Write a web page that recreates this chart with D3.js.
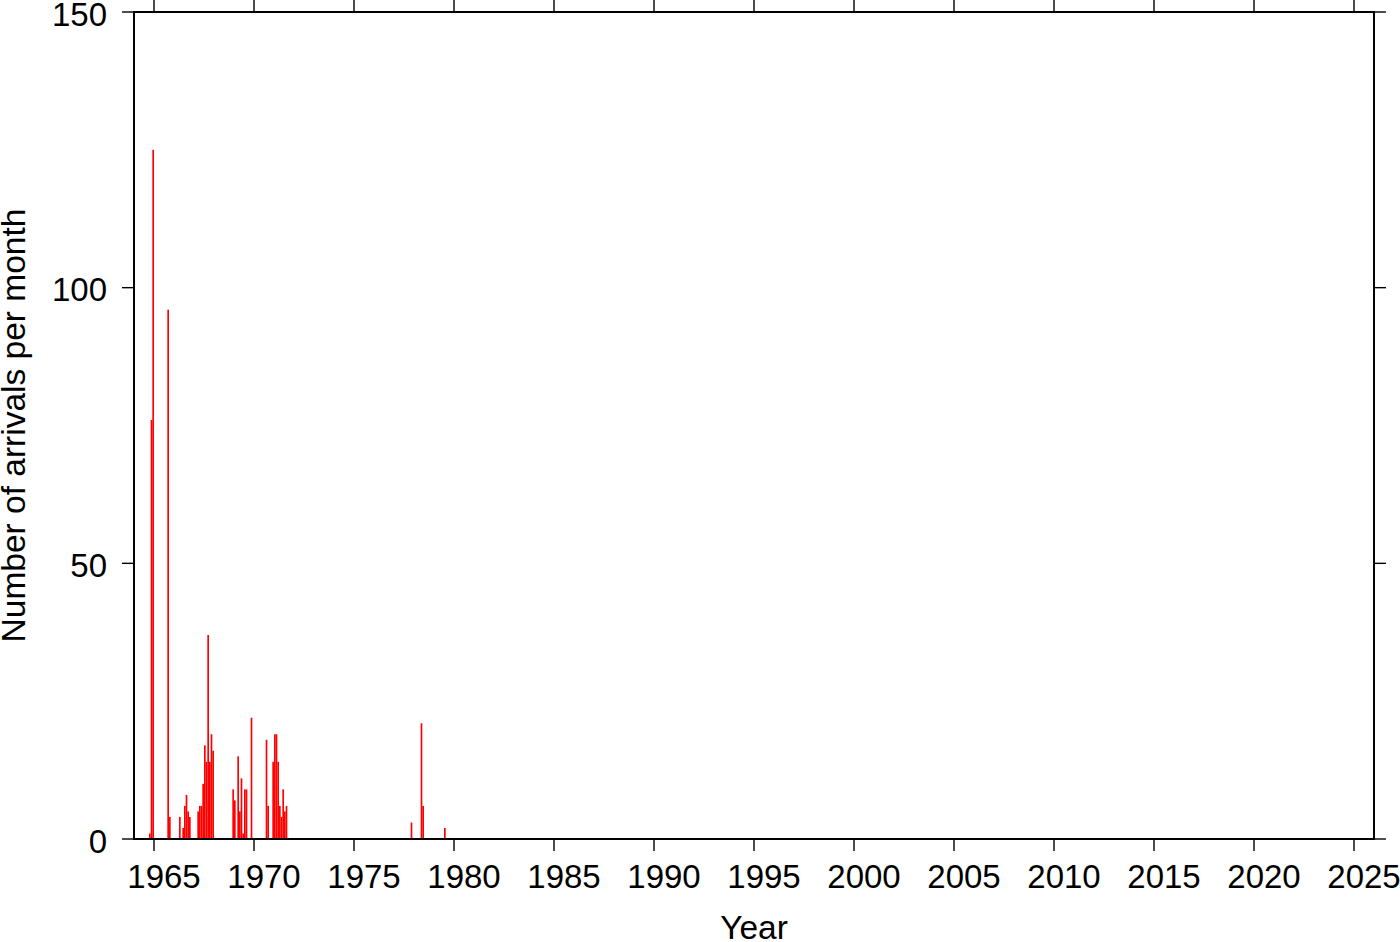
<!DOCTYPE html>
<html>
<head>
<meta charset="utf-8">
<script src="https://cdn.jsdelivr.net/npm/d3@7"></script>
<style>
  html, body { margin: 0; padding: 0; background: #fff; }
  svg { display: block; font-family: "Liberation Sans", Arial, Helvetica, sans-serif; }
</style>
</head>
<body>
<svg id="chart" width="1400" height="942"></svg>
<script>
// Months (YYYY-MM) and number of arrivals in each month
const months = [
  "1964-10","1964-11","1964-12","1965-09","1965-10",
  "1966-04","1966-06","1966-07","1966-08","1966-09","1966-10",
  "1967-03","1967-04","1967-05","1967-06","1967-07","1967-08","1967-09","1967-10","1967-11","1967-12",
  "1968-12","1969-01","1969-03","1969-04","1969-05","1969-06","1969-07","1969-08","1969-11",
  "1970-08","1970-09","1970-12","1971-01","1971-02","1971-03","1971-04","1971-05","1971-06","1971-07","1971-08",
  "1977-11","1978-05","1978-06","1979-07"
];
const arrivals = [
  1, 76, 125, 96, 4,
  4, 2, 6, 8, 5, 4,
  5, 6, 6, 10, 17, 14, 37, 14, 19, 16,
  9, 7, 15, 5, 11, 1, 9, 9, 22,
  18, 6, 14, 19, 19, 14, 6, 4, 9, 5, 6,
  3, 21, 6, 2
];
const xDomain = [1964, 2026];
const yDomain = [0, 150];
const xTickYears = [1965, 1970, 1975, 1980, 1985, 1990, 1995, 2000, 2005, 2010, 2015, 2020, 2025];
const yTickValues = [0, 50, 100, 150];
const xTitle = "Year";
const yTitle = "Number of arrivals per month";

const svg = d3.select("#chart");
const L = 134, R = 1374, T = 12, B = 839;
const tickLen = 12;
const tickFont = 33;
const titleFont = 33.5;

const x = d3.scaleLinear().domain(xDomain).range([L, R]);
const y = d3.scaleLinear().domain(yDomain).range([B, T]);

const data = months.map((m, i) => {
  const [yr, mo] = m.split("-").map(Number);
  return { t: yr + (mo - 1) / 12, v: arrivals[i] };
});

// bars
svg.append("g").selectAll("rect").data(data).join("rect")
  .attr("x", d => x(d.t))
  .attr("width", d => x(d.t + 1 / 12) - x(d.t))
  .attr("y", d => y(d.v))
  .attr("height", d => y(0) - y(d.v))
  .attr("fill", "#ff0000");

// ticks on all four sides (outward)
const tg = svg.append("g").attr("stroke", "#000").attr("stroke-width", 1.4);
xTickYears.forEach(yr => {
  tg.append("line").attr("x1", x(yr)).attr("x2", x(yr)).attr("y1", B).attr("y2", B + tickLen);
  tg.append("line").attr("x1", x(yr)).attr("x2", x(yr)).attr("y1", T).attr("y2", T - tickLen);
});
yTickValues.forEach(v => {
  tg.append("line").attr("x1", L).attr("x2", L - tickLen).attr("y1", y(v)).attr("y2", y(v));
  tg.append("line").attr("x1", R).attr("x2", R + tickLen).attr("y1", y(v)).attr("y2", y(v));
});

// frame
svg.append("rect").attr("x", L).attr("y", T).attr("width", R - L).attr("height", B - T)
  .attr("fill", "none").attr("stroke", "#000").attr("stroke-width", 2);

// x tick labels (centred in the year interval)
svg.append("g").selectAll("text").data(xTickYears).join("text")
  .attr("x", d => x(d + 0.5))
  .attr("y", 888)
  .attr("text-anchor", "middle")
  .attr("font-size", tickFont)
  .text(d => d);

// y tick labels
svg.append("g").selectAll("text").data(yTickValues).join("text")
  .attr("x", L - tickLen - 15)
  .attr("y", d => y(d) + 13.5)
  .attr("text-anchor", "end")
  .attr("font-size", tickFont)
  .text(d => d);

// axis titles
svg.append("text").attr("x", (L + R) / 2).attr("y", 939)
  .attr("text-anchor", "middle").attr("font-size", titleFont).text(xTitle);
svg.append("text")
  .attr("transform", `translate(25,${(T + B) / 2}) rotate(-90)`)
  .attr("text-anchor", "middle").attr("font-size", titleFont).text(yTitle);
</script>
</body>
</html>
